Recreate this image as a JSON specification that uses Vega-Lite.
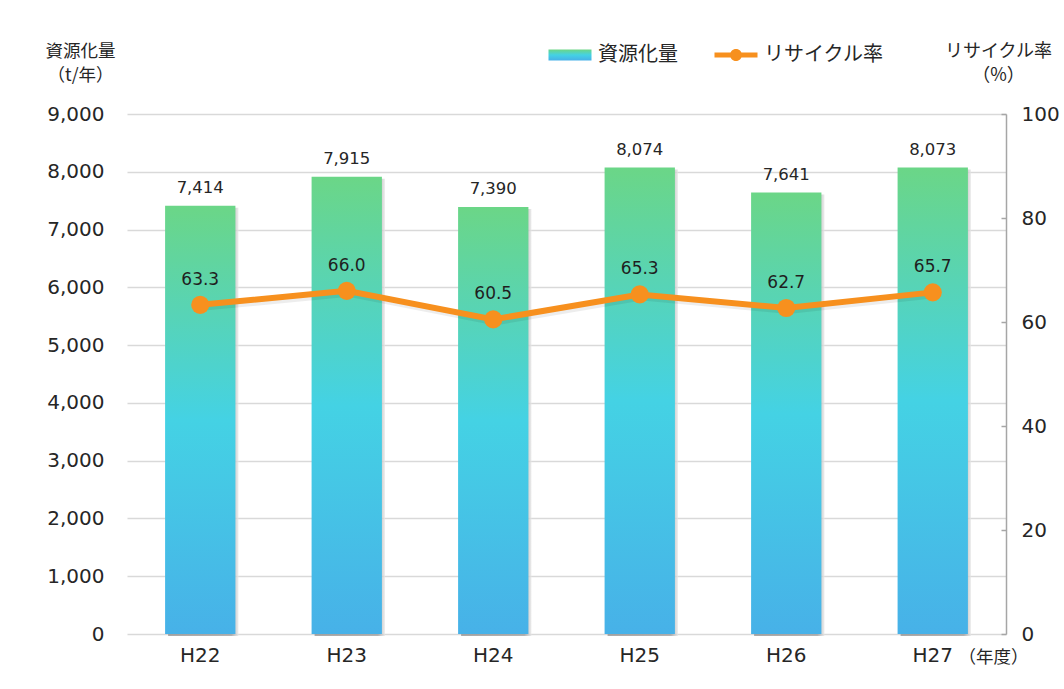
{
  "$schema": "https://vega.github.io/schema/vega-lite/v6.json",
  "width": 879,
  "height": 520,
  "autosize": "none",
  "padding": {"left": 127, "top": 114, "right": 58, "bottom": 55},
  "background": "white",
  "config": {
    "view": {"stroke": null},
    "axis": {
      "labelFont": "DejaVu Sans",
      "labelFontSize": 20,
      "labelColor": "#262626",
      "titleFont": "Noto Sans CJK JP",
      "titleFontWeight": "normal",
      "titleColor": "#262626"
    },
    "legend": {
      "labelFont": "Noto Sans CJK JP",
      "labelFontSize": 20,
      "labelColor": "#262626"
    }
  },
  "data": {
    "values": [
      {"year": "H22", "amount": 7414, "rate": 63.3},
      {"year": "H23", "amount": 7915, "rate": 66.0},
      {"year": "H24", "amount": 7390, "rate": 60.5},
      {"year": "H25", "amount": 8074, "rate": 65.3},
      {"year": "H26", "amount": 7641, "rate": 62.7},
      {"year": "H27", "amount": 8073, "rate": 65.7}
    ]
  },
  "encoding": {
    "x": {
      "field": "year",
      "type": "nominal",
      "sort": null,
      "scale": {"paddingInner": 0.52, "paddingOuter": 0.26},
      "axis": {
        "title": "（年度）",
        "titleFontSize": 17.5,
        "titleAngle": 0,
        "titleAlign": "center",
        "titleBaseline": "middle",
        "titleX": 866,
        "titleY": 23,
        "labelAngle": 0,
        "labelPadding": 11,
        "domain": false,
        "ticks": false,
        "grid": false
      }
    }
  },
  "layer": [
    {
      "encoding": {
        "y": {
          "field": "amount",
          "type": "quantitative",
          "scale": {"domain": [0, 9000], "nice": false},
          "axis": {
            "orient": "left",
            "values": [0, 1000, 2000, 3000, 4000, 5000, 6000, 7000, 8000, 9000],
            "format": ",.0f",
            "domain": false,
            "ticks": false,
            "labelPadding": 23,
            "grid": true,
            "gridColor": "#d9d9d9",
            "gridWidth": 1.5,
            "title": ["資源化量", "（t/年）"],
            "titleFontSize": 17.5,
            "titleLineHeight": 24,
            "titleAngle": 0,
            "titleAlign": "center",
            "titleBaseline": "middle",
            "titleX": -47,
            "titleY": -63
          }
        }
      },
      "layer": [
        {
          "mark": {
            "type": "bar",
            "xOffset": 3,
            "yOffset": 2,
            "fill": {
              "gradient": "linear",
              "x1": 0, "y1": 0, "x2": 1, "y2": 0,
              "stops": [
                {"offset": 0, "color": "#8f8f8f"},
                {"offset": 0.9, "color": "#9c9c9c"},
                {"offset": 1, "color": "#e6e6e6"}
              ]
            },
            "opacity": 0.75
          }
        },
        {
          "mark": {
            "type": "bar",
            "fill": {
              "gradient": "linear",
              "x1": 0, "y1": 0, "x2": 0, "y2": 1,
              "stops": [
                {"offset": 0, "color": "#6BD687"},
                {"offset": 0.5, "color": "#44D2E4"},
                {"offset": 1, "color": "#47B1E8"}
              ]
            }
          }
        },
        {
          "mark": {
            "type": "text",
            "dy": -18,
            "baseline": "middle",
            "font": "DejaVu Sans",
            "fontSize": 16.5,
            "color": "#262626"
          },
          "encoding": {
            "text": {"field": "amount", "type": "quantitative", "format": ",.0f"}
          }
        }
      ]
    },
    {
      "encoding": {
        "y": {
          "field": "rate",
          "type": "quantitative",
          "scale": {"domain": [0, 100], "nice": false},
          "axis": {
            "orient": "right",
            "values": [0, 20, 40, 60, 80, 100],
            "domain": true,
            "domainColor": "#a6a6a6",
            "domainWidth": 1.5,
            "ticks": true,
            "tickColor": "#a6a6a6",
            "tickSize": -5,
            "tickWidth": 1.5,
            "labelPadding": 20,
            "grid": false,
            "title": ["リサイクル率", "（%）"],
            "titleFontSize": 18,
            "titleLineHeight": 24,
            "titleAngle": 0,
            "titleAlign": "center",
            "titleBaseline": "middle",
            "titleX": -8,
            "titleY": -63
          }
        }
      },
      "layer": [
        {
          "mark": {
            "type": "line",
            "strokeWidth": 6,
            "color": "#000000",
            "opacity": 0.07,
            "xOffset": 2,
            "yOffset": 3
          }
        },
        {
          "mark": {"type": "line", "strokeWidth": 6},
          "encoding": {
            "color": {
              "datum": "リサイクル率",
              "type": "nominal",
              "scale": {
                "domain": ["資源化量", "リサイクル率"],
                "range": ["#46C3E5", "#F7901E"]
              },
              "legend": {
                "title": null,
                "orient": "none",
                "direction": "horizontal",
                "legendX": 421,
                "legendY": -81,
                "labelOffset": 6,
                "columnPadding": 36,
                "symbolSize": 1850,
                "encode": {
                  "symbols": {
                    "update": {
                      "shape": {
                        "signal": "datum.value === '資源化量' ? 'M-1,-0.25H1V0.25H-1Z' : 'M-1,-0.12H1V0.12H-1Z M0.28,0A0.28,0.28 0 1,1 -0.28,0A0.28,0.28 0 1,1 0.28,0Z'"
                      },
                      "fill": [
                        {
                          "test": "datum.value === '資源化量'",
                          "value": {
                            "gradient": "linear",
                            "x1": 0, "y1": 0, "x2": 0, "y2": 1,
                            "stops": [
                              {"offset": 0, "color": "#6BD687"},
                              {"offset": 0.5, "color": "#44D2E4"},
                              {"offset": 1, "color": "#47B1E8"}
                            ]
                          }
                        },
                        {"value": "#F7901E"}
                      ],
                      "stroke": {"value": "transparent"},
                      "strokeWidth": {"value": 0},
                      "size": {"value": 1850},
                      "opacity": {"value": 1}
                    }
                  }
                }
              }
            }
          }
        },
        {
          "mark": {
            "type": "point",
            "filled": true,
            "size": 330,
            "color": "#F7901E",
            "opacity": 1
          }
        },
        {
          "mark": {
            "type": "text",
            "dy": -25,
            "baseline": "middle",
            "font": "DejaVu Sans",
            "fontSize": 17,
            "color": "#1f1f1f"
          },
          "encoding": {
            "text": {"field": "rate", "type": "quantitative", "format": ".1f"}
          }
        }
      ]
    }
  ],
  "resolve": {"scale": {"y": "independent"}, "axis": {"y": "independent"}}
}
